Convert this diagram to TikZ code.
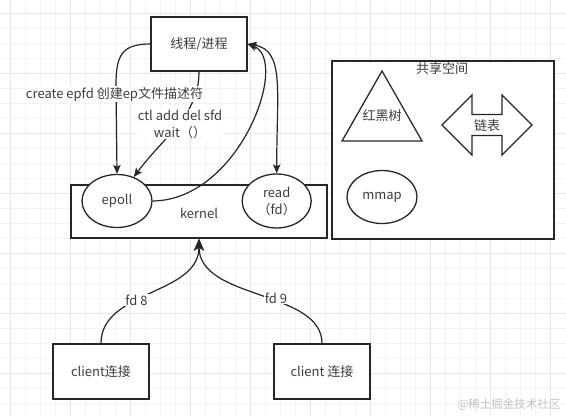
\documentclass[tikz,border=0pt]{standalone}
\usepackage{fontspec}
\setmainfont{Noto Sans CJK SC}
\usetikzlibrary{arrows.meta,shapes.geometric}
\definecolor{ink}{RGB}{38,38,38}
\definecolor{txt}{RGB}{60,60,60}
\definecolor{gminorc}{RGB}{244,244,244}
\definecolor{gmajorc}{RGB}{232,232,232}
\definecolor{wmark}{RGB}{195,195,195}
\begin{document}
\begin{tikzpicture}[x=1pt,y=-1pt,
  every node/.style={font=\fontsize{13}{17}\selectfont, text=txt},
  box/.style={draw=ink, line width=1.3pt, fill=white, rectangle, inner sep=0pt},
  oval/.style={draw=ink, line width=1.3pt, fill=white, ellipse, inner sep=0pt},
  shp/.style={draw=ink, line width=1.3pt, fill=white, line join=miter},
  conn/.style={draw=ink, line width=1.2pt, -{Stealth[length=9pt,width=7.5pt,inset=2pt]}},
  bconn/.style={draw=ink, line width=1.2pt, {Stealth[length=9pt,width=7.5pt,inset=2pt]}-{Stealth[length=9pt,width=7.5pt,inset=2pt]}},
  upconn/.style={draw=ink, line width=1.2pt, -{Stealth[length=12pt,width=10pt,inset=3pt]}},
  lbl/.style={fill=white, inner sep=1pt},
  gminor/.style={draw=gminorc, line width=0.8pt},
  gmajor/.style={draw=gmajorc, line width=1pt}]
\useasboundingbox (0,0) rectangle (566,416);
\fill[white] (0,0) rectangle (566,416);
% grid
\foreach \gx in {10,25,...,560} \draw[gminor] (\gx,0) -- (\gx,416);
\foreach \gy in {13,28,...,415} \draw[gminor] (0,\gy) -- (566,\gy);
\foreach \gx in {10,70,...,560} \draw[gmajor] (\gx,0) -- (\gx,416);
\foreach \gy in {13,73,...,415} \draw[gmajor] (0,\gy) -- (566,\gy);

% boxes
\node[box, minimum width=96pt, minimum height=54pt] (proc) at (199,44) {线程/进程};
\node[box, minimum width=256pt, minimum height=53pt] (kernel) at (199,211.5) {};
\node (kernellbl) at (199,213) {kernel};
\node[oval, minimum width=70pt, minimum height=53pt] (epoll) at (117,201) {epoll};
\node[oval, minimum width=69pt, minimum height=54pt, align=center] (read) at (276.7,201) {read\\（fd）};

% shared space
\node[box, minimum width=222pt, minimum height=178pt] (shared) at (443,150) {};
\node (sharedlbl) at (442,69) {共享空间};
\draw[shp] (382,71) -- (422,141) -- (342,141) -- cycle;
\node (rbt) at (382,116) {红黑树};
\draw[shp] (442,125) -- (472,95) -- (472,114.5) -- (502,114.5) -- (502,95) -- (532,125)
  -- (502,155) -- (502,135.5) -- (472,135.5) -- (472,155) -- cycle;
\node (list) at (487,126) {链表};
\node[oval, minimum width=70pt, minimum height=53pt] (mmap) at (382,197) {mmap};

% clients
\node[box, minimum width=96pt, minimum height=55pt] (c1) at (101,371.5) {client连接};
\node[box, minimum width=96pt, minimum height=55pt] (c2) at (322,371.5) {client 连接};

% connectors
\draw[conn] (proc.west) .. controls (122,44) and (116,55) .. (116,85) -- (epoll.north);
\draw[conn] (proc.south) .. controls (199,115) and (165,135) .. (epoll.55);
\draw[conn] (epoll.east) .. controls (240,200) and (290,60) .. (proc.east);
\draw[bconn] (read.north) .. controls (276.7,90) and (285,50) .. (proc.east);
\draw[upconn] (c1.north) .. controls (101,290) and (199,295) .. (kernel.south);
\draw[upconn] (c2.north) .. controls (322,290) and (199,300) .. (kernel.south);

% labels
\node[lbl] (l1) at (114.5,94) {create epfd 创建ep文件描述符};
\node[lbl, align=center] (l2) at (180,124) {ctl add del sfd\\wait（）};
\node[lbl] (l3) at (136.5,300) {fd 8};
\node[lbl] (l4) at (276,298) {fd 9};

\node[text=wmark, font=\fontsize{11.5}{13}\selectfont] (wm) at (509,405) {@稀土掘金技术社区};
\end{tikzpicture}
\end{document}
